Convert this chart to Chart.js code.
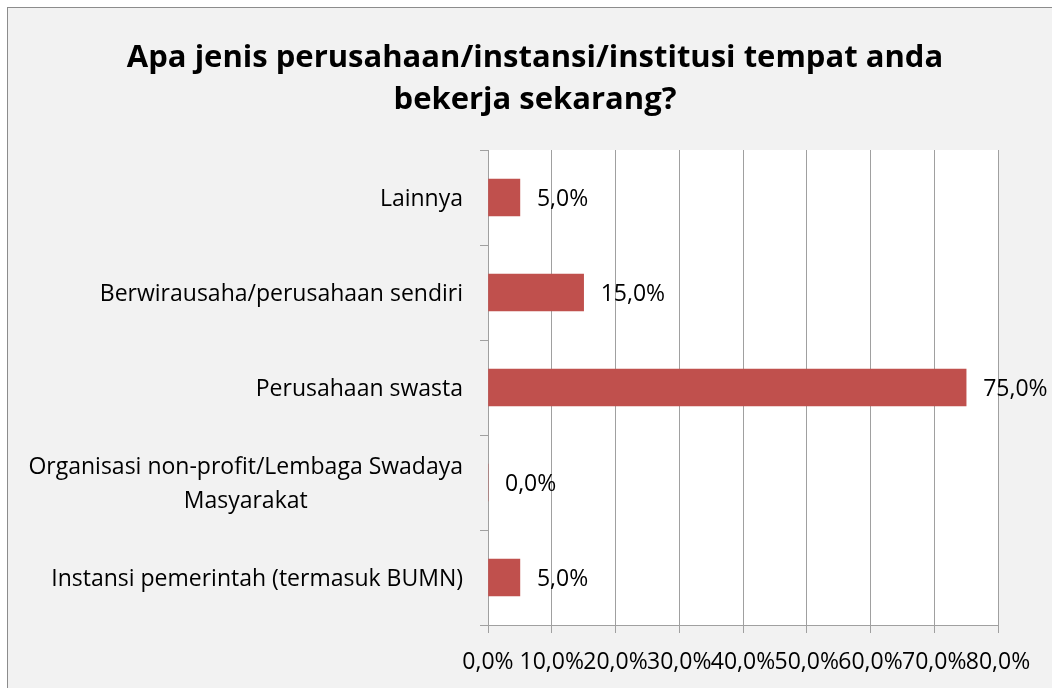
<!DOCTYPE html>
<html>
<head>
<meta charset="utf-8">
<script src="https://cdn.jsdelivr.net/npm/chart.js@4"></script>
<style>
  html, body { margin: 0; padding: 0; background: #fff; }
  #wrap { width: 1052px; height: 688px; }
</style>
</head>
<body>
<div id="wrap"><canvas id="graph" width="1052" height="688"></canvas></div>
<script>
// data, top to bottom as shown
const categories = [
  'Lainnya',
  'Berwirausaha/perusahaan sendiri',
  'Perusahaan swasta',
  ['Organisasi non-profit/Lembaga Swadaya', 'Masyarakat'],
  'Instansi pemerintah (termasuk BUMN)'
];
const percents = [5.0, 15.0, 75.0, 0.0, 5.0];
const xTicks = [0, 10, 20, 30, 40, 50, 60, 70, 80];
const titleLines = ['Apa jenis perusahaan/instansi/institusi tempat anda', 'bekerja sekarang?'];

const FONT = '"Open Sans", sans-serif';
const fmt = v => v.toFixed(1).replace('.', ',') + '%';

// background, frame, white plot area, title, category labels and value labels
const decor = {
  id: 'decor',
  beforeDraw(chart) {
    const ctx = chart.ctx, a = chart.chartArea;
    ctx.save();
    ctx.fillStyle = '#f2f2f2';
    ctx.fillRect(7, 7, 1045, 681);
    ctx.strokeStyle = '#8c8c8c';
    ctx.lineWidth = 1;
    ctx.strokeRect(7.5, 7.5, 1050, 690);
    ctx.fillStyle = '#ffffff';
    ctx.fillRect(a.left, a.top, a.right - a.left, a.bottom - a.top);
    ctx.restore();
  },
  afterDraw(chart) {
    const ctx = chart.ctx;
    const ys = chart.scales.y;
    ctx.save();
    ctx.fillStyle = '#000';
    ctx.textBaseline = 'middle';
    ctx.textAlign = 'center';
    ctx.font = 'bold 31px ' + FONT;
    titleLines.forEach((t, i) => ctx.fillText(t, 535, 58 + i * 42));

    ctx.font = '23px ' + FONT;
    categories.forEach((lab, i) => {
      const lines = Array.isArray(lab) ? lab : [lab];
      const w = Math.max(...lines.map(l => ctx.measureText(l).width));
      const cy = ys.getPixelForValue(i);
      const cx = 463 - w / 2;
      lines.forEach((l, j) => ctx.fillText(l, cx, cy + 2 + (j - (lines.length - 1) / 2) * 34));
    });

    ctx.textAlign = 'left';
    const meta = chart.getDatasetMeta(0);
    meta.data.forEach((bar, i) => {
      ctx.fillText(fmt(percents[i]), bar.x + 17, bar.y + 2);
    });
    ctx.restore();
  }
};

new Chart(document.getElementById('graph'), {
  type: 'bar',
  data: {
    labels: categories,
    datasets: [{
      data: percents,
      backgroundColor: '#c0504d',
      borderWidth: 0,
      barThickness: 37
    }]
  },
  options: {
    indexAxis: 'y',
    responsive: false,
    animation: false,
    layout: { padding: { top: 150, left: 0, right: 54, bottom: 0 } },
    plugins: {
      legend: { display: false },
      tooltip: { enabled: false },
      title: { display: false }
    },
    scales: {
      x: {
        min: 0,
        max: 80,
        afterBuildTicks: s => { s.ticks = xTicks.map(v => ({ value: v })); },
        grid: { color: '#a0a0a0', lineWidth: 1, tickLength: 8 },
        border: { color: '#a0a0a0', width: 1 },
        ticks: {
          color: '#000',
          font: { family: FONT, size: 23 },
          padding: 16,
          maxRotation: 0,
          autoSkip: false,
          callback: v => fmt(v)
        },
        afterFit: s => { s.height = 63; }
      },
      y: {
        grid: { drawOnChartArea: false, color: '#a0a0a0', tickLength: 8, offset: true },
        border: { color: '#a0a0a0', width: 1 },
        ticks: { display: false },
        afterFit: s => { s.width = 488; }
      }
    }
  },
  plugins: [decor]
});
</script>
</body>
</html>
